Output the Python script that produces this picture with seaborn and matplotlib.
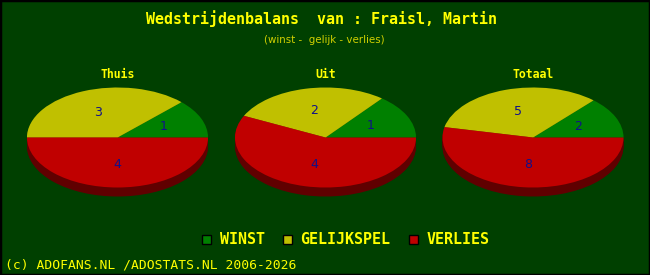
import matplotlib
matplotlib.use("Agg")
import matplotlib.pyplot as plt
from matplotlib.patches import Patch, Rectangle
import seaborn as sns

# ---- data ----
categories = ["Thuis", "Uit", "Totaal"]
winst = [1, 1, 2]
gelijk = [3, 2, 5]
verlies = [4, 4, 8]
legend_labels = ["WINST", "GELIJKSPEL", "VERLIES"]
title = "Wedstrijdenbalans  van : Fraisl, Martin"
subtitle = "(winst -  gelijk - verlies)"
footer = "(c) ADOFANS.NL /ADOSTATS.NL 2006-2026"

# ---- style ----
sns.set_style("dark")
plt.rcParams["font.family"] = ["DejaVu Sans"]
BG = "#004000"
top_colors = sns.color_palette(["#008000", "#C0C000", "#C00000"])
side_colors = sns.color_palette(["#004800", "#606000", "#600000"])
YELLOW = "#FFFF00"
MONO = "DejaVu Sans Mono"

W, H = 650, 275
fig = plt.figure(figsize=(W / 100, H / 100), dpi=100, facecolor=BG)

# pie geometry in pixels
centers_x = [117.5, 325.5, 533.0]
cy = 137.5
a, b, depth = 90.5, 50.0, 9
padx, pad_top, pad_bot = 4, 4, 14

for i, cat in enumerate(categories):
    cx = centers_x[i]
    left = (cx - a - padx) / W
    bottom = (H - (cy + b + pad_bot)) / H
    width = (2 * a + 2 * padx) / W
    height = (2 * b + pad_top + pad_bot) / H
    ax = fig.add_axes([left, bottom, width, height])
    ax.set_facecolor(BG)
    vals = [winst[i], gelijk[i], verlies[i]]
    # extruded side
    for k in range(depth, 0, -1):
        ax.pie(vals, colors=side_colors, startangle=0, counterclock=True,
               center=(0, -k / b), radius=1,
               wedgeprops=dict(linewidth=0, antialiased=True))
    wedges, texts = ax.pie(vals, colors=top_colors, startangle=0, counterclock=True,
                           labels=[str(v) for v in vals], labeldistance=0.55,
                           radius=1, wedgeprops=dict(linewidth=0),
                           textprops=dict(color="#10108A", fontsize=9))
    for t in texts:
        t.set_ha("center")
        t.set_va("center")
    ax.set_aspect("auto")
    ax.set_xlim(-(a + padx) / a, (a + padx) / a)
    ax.set_ylim(-(b + pad_bot) / b, (b + pad_top) / b)
    ax.axis("off")
    fig.text(cx / W, 1 - 75 / H, cat, ha="center", va="center",
             color=YELLOW, fontsize=8.3, fontweight="bold", family=MONO)

fig.text(321 / W, 1 - 19 / H, title, ha="center", va="center",
         color=YELLOW, fontsize=10.8, fontweight="bold", family=MONO)
fig.text(324 / W, 1 - 40 / H, subtitle, ha="center", va="center",
         color="#D0D000", fontsize=7.4)
fig.text(5 / W, 1 - 265 / H, footer, ha="left", va="center",
         color=YELLOW, fontsize=9.4, family=MONO)

handles = [Patch(facecolor=c, edgecolor="black", linewidth=1) for c in top_colors]
leg = fig.legend(handles, legend_labels, loc="center", ncol=3,
                 bbox_to_anchor=(346 / W, 1 - 240 / H), frameon=False,
                 handlelength=0.55, handleheight=0.55, handletextpad=0.6,
                 columnspacing=1.25,
                 prop=dict(family=MONO, weight="bold", size=10.8))
for t in leg.get_texts():
    t.set_color(YELLOW)

fig.patches.append(Rectangle((0, 0), 1, 1, transform=fig.transFigure,
                             fill=False, edgecolor="black", linewidth=2.5))

fig.savefig("out.png", dpi=100, facecolor=BG)
